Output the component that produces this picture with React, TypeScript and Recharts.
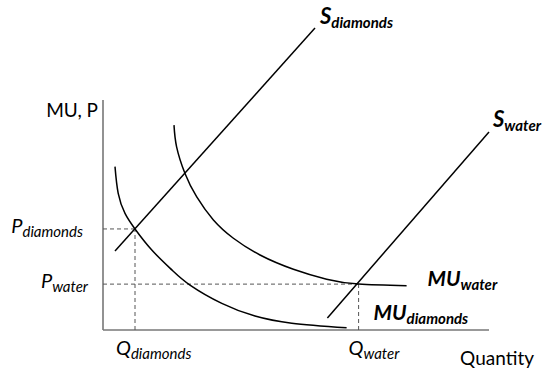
import { LineChart, Line, XAxis, YAxis, ReferenceLine, ReferenceDot } from 'recharts'

// quantity (q) and price / marginal utility (p)
const muDiamonds = [
  { q: 3, p: 52.7 },
  { q: 3.8, p: 44.1 },
  { q: 5.5, p: 37.6 },
  { q: 8, p: 32.6 },
  { q: 12.2, p: 25.8 },
  { q: 17.2, p: 19.4 },
  { q: 21.75, p: 14.5 },
  { q: 29.7, p: 8.6 },
  { q: 38, p: 4.5 },
  { q: 47.2, p: 2.2 },
  { q: 60.9, p: 0.7 },
]

const muWater = [
  { q: 17.75, p: 66.1 },
  { q: 18.4, p: 59.1 },
  { q: 20.5, p: 50.5 },
  { q: 23.4, p: 43.0 },
  { q: 27.6, p: 35.5 },
  { q: 32.6, p: 29.6 },
  { q: 39.25, p: 24.2 },
  { q: 47.6, p: 19.6 },
  { q: 55.9, p: 16.4 },
  { q: 63.9, p: 14.8 },
  { q: 75.9, p: 14.3 },
]

const sDiamonds = [
  { q: 3, p: 25.5 },
  { q: 53, p: 97.4 },
]

const sWater = [
  { q: 56.1, p: 3.9 },
  { q: 96.5, p: 63.9 },
]

const qDiamonds = 8
const pDiamonds = 32.6
const qWater = 63.9
const pWater = 14.8

const yAxisTop = 74.2
const xAxisEnd = 96.5

const FONT = 'Lato, "Open Sans", sans-serif'

type TagProps = {
  viewBox?: { x: number; y: number }
  main: string
  sub?: string
  dx?: number
  dy?: number
  anchor?: 'start' | 'middle' | 'end'
  bold?: boolean
  italic?: boolean
  size?: number
  subSize?: number
}

function Tag({ viewBox, main, sub, dx = 0, dy = 0, anchor = 'start', bold, italic, size = 20, subSize = 15 }: TagProps) {
  if (!viewBox) return null
  return (
    <text x={viewBox.x + dx} y={viewBox.y + dy} textAnchor={anchor} fontFamily={FONT} fill="#000">
      <tspan fontSize={size} fontWeight={bold ? 700 : 400} fontStyle={italic ? 'italic' : 'normal'}>
        {main}
      </tspan>
      {sub && (
        <tspan fontSize={subSize} dy={4} fontWeight={bold ? 700 : 400} fontStyle={italic ? 'italic' : 'normal'}>
          {sub}
        </tspan>
      )}
    </text>
  )
}

function label(opts: Omit<TagProps, 'viewBox'>) {
  return (props: any) => <Tag viewBox={props.viewBox} {...opts} />
}

const curve = { dot: false, stroke: '#000', strokeWidth: 1.5, isAnimationActive: false, dataKey: 'p' }
const dashed = { stroke: '#555', strokeWidth: 1, strokeDasharray: '4 3' }
const axis = { stroke: '#777', strokeWidth: 1.6 }
const anchorDot = { r: 0, fill: 'none', stroke: 'none', ifOverflow: 'visible' as const }

export default function App() {
  return (
    <div style={{ position: 'absolute', left: 0, top: 0, background: '#fff' }}>
      <LineChart width={542} height={369} margin={{ top: 20, right: 39, bottom: 39, left: 103 }}>
        <XAxis type="number" dataKey="q" domain={[0, 100]} hide />
        <YAxis type="number" domain={[0, 100]} hide />

        <ReferenceLine segment={[{ x: 0, y: 0 }, { x: 0, y: yAxisTop }]} {...axis} />
        <ReferenceLine segment={[{ x: 0, y: 0 }, { x: xAxisEnd, y: 0 }]} {...axis} />

        <ReferenceLine segment={[{ x: 0, y: pDiamonds }, { x: qDiamonds, y: pDiamonds }]} {...dashed} />
        <ReferenceLine segment={[{ x: qDiamonds, y: 0 }, { x: qDiamonds, y: pDiamonds }]} {...dashed} />
        <ReferenceLine segment={[{ x: 0, y: pWater }, { x: qWater, y: pWater }]} {...dashed} />
        <ReferenceLine segment={[{ x: qWater, y: 0 }, { x: qWater, y: pWater }]} {...dashed} />

        <Line data={muDiamonds} type="natural" {...curve} />
        <Line data={muWater} type="natural" {...curve} />
        <Line data={sDiamonds} type="linear" {...curve} />
        <Line data={sWater} type="linear" {...curve} />

        <ReferenceDot x={0} y={yAxisTop} {...anchorDot}
          label={label({ main: 'MU, P', anchor: 'end', dx: -5, dy: 17, size: 19 })} />
        <ReferenceDot x={xAxisEnd} y={0} {...anchorDot}
          label={label({ main: 'Quantity', anchor: 'end', dx: 45, dy: 35, size: 19 })} />

        <ReferenceDot x={0} y={pDiamonds} {...anchorDot}
          label={label({ main: 'P', sub: 'diamonds', anchor: 'end', dx: -20, dy: 4, italic: true })} />
        <ReferenceDot x={0} y={pWater} {...anchorDot}
          label={label({ main: 'P', sub: 'water', anchor: 'end', dx: -15, dy: 4, italic: true })} />
        <ReferenceDot x={qDiamonds} y={0} {...anchorDot}
          label={label({ main: 'Q', sub: 'diamonds', anchor: 'start', dx: -19, dy: 25, italic: true })} />
        <ReferenceDot x={qWater} y={0} {...anchorDot}
          label={label({ main: 'Q', sub: 'water', anchor: 'start', dx: -10, dy: 25, italic: true })} />

        <ReferenceDot x={sDiamonds[1].q} y={sDiamonds[1].p} {...anchorDot}
          label={label({ main: 'S', sub: 'diamonds', dx: 5, dy: -4, bold: true, italic: true, size: 22 })} />
        <ReferenceDot x={sWater[1].q} y={sWater[1].p} {...anchorDot}
          label={label({ main: 'S', sub: 'water', dx: 4, dy: -5, bold: true, italic: true, size: 22 })} />
        <ReferenceDot x={muWater[muWater.length - 1].q} y={muWater[muWater.length - 1].p} {...anchorDot}
          label={label({ main: 'MU', sub: 'water', dx: 21, dy: 0, bold: true, italic: true, size: 21 })} />
        <ReferenceDot x={muDiamonds[muDiamonds.length - 1].q} y={muDiamonds[muDiamonds.length - 1].p} {...anchorDot}
          label={label({ main: 'MU', sub: 'diamonds', dx: 27, dy: -8, bold: true, italic: true, size: 21 })} />
      </LineChart>
    </div>
  )
}
